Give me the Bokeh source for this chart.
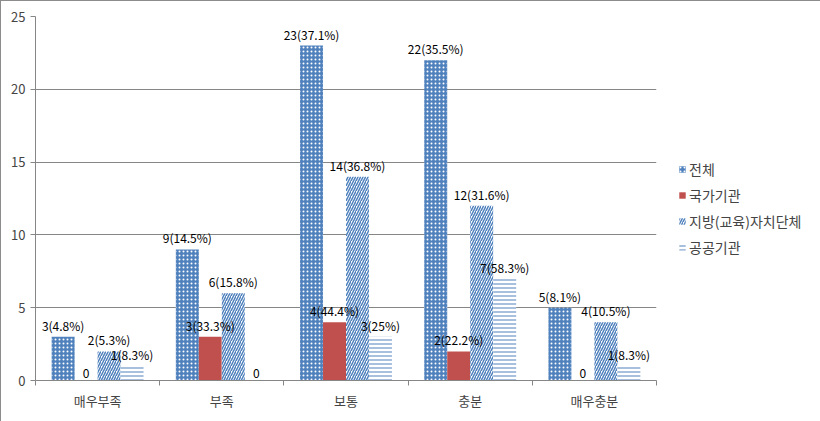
from bokeh.plotting import figure
from bokeh.models import ColumnDataSource, FixedTicker, Legend, LegendItem, LabelSet
from bokeh.core.properties import value
from bokeh.embed import file_html
from bokeh.resources import INLINE

categories = ["매우부족", "부족", "보통", "충분", "매우충분"]
series = ["전체", "국가기관", "지방(교육)자치단체", "공공기관"]
v_total = [3, 9, 23, 22, 5]
v_nation = [0, 3, 4, 2, 0]
v_local = [2, 6, 14, 12, 4]
v_public = [1, 0, 3, 7, 1]
p_total = ["4.8", "14.5", "37.1", "35.5", "8.1"]
p_nation = ["", "33.3", "44.4", "22.2", ""]
p_local = ["5.3", "15.8", "36.8", "31.6", "10.5"]
p_public = ["8.3", "", "25", "58.3", "8.3"]
y_ticks = [0, 5, 10, 15, 20, 25]

values = [v_total, v_nation, v_local, v_public]
pcts = [p_total, p_nation, p_local, p_public]

BLUE = "#4F81BD"
RED = "#C0504D"
styles = [
    dict(fill_color=BLUE, hatch_pattern="dot", hatch_color="white", hatch_scale=4, hatch_weight=0.8),
    dict(fill_color=RED),
    dict(fill_color="white", hatch_pattern="right_diagonal_line", hatch_color=BLUE, hatch_scale=5, hatch_weight=1.5),
    dict(fill_color="white", hatch_pattern="horizontal_line", hatch_color=BLUE, hatch_scale=4, hatch_weight=1),
]

FONT = "Noto Sans CJK KR"
bw = 0.185

p = figure(width=820, height=421, output_backend="svg", toolbar_location=None,
           x_range=(0, 5), y_range=(0, 25),
           frame_width=621, frame_height=364,
           min_border_left=34, min_border_top=15, min_border_bottom=42, min_border_right=165)
p.outline_line_color = None
p.styles = {"border": "1px solid #8c8c8c", "box-sizing": "border-box"}

items = []
for j, (name, vals, pc) in enumerate(zip(series, values, pcts)):
    xs = [i + 0.5 + (j - 1.5) * bw for i in range(len(categories))]
    labels = [f"{v}({q}%)" if v != 0 else "0" for v, q in zip(vals, pc)]
    src = ColumnDataSource(dict(x=xs, top=vals, label=labels))
    r = p.vbar(x="x", top="top", width=bw, source=src, line_color=None, **styles[j])
    items.append(LegendItem(label=name, renderers=[r]))
    ls = LabelSet(x="x", y="top", text="label", source=src, text_align="center",
                  text_baseline="bottom", y_offset=3, text_font=value(FONT),
                  text_font_size=value("12px"), text_color="black")
    p.add_layout(ls)

# axes
p.xaxis.ticker = FixedTicker(ticks=[i + 0.5 for i in range(len(categories))],
                             minor_ticks=list(range(len(categories) + 1)))
p.xaxis.major_label_overrides = {i + 0.5: c for i, c in enumerate(categories)}
p.xaxis.major_tick_line_color = None
p.xaxis.major_tick_out = 0
p.xaxis.major_tick_in = 0
p.xaxis.minor_tick_out = 5
p.xaxis.minor_tick_in = 0
p.xaxis.minor_tick_line_color = "#868686"
p.xaxis.axis_line_color = "#868686"
p.xaxis.major_label_text_font = FONT
p.xaxis.major_label_text_font_size = "13px"
p.xaxis.major_label_standoff = 5

p.yaxis.ticker = FixedTicker(ticks=y_ticks)
p.yaxis.major_tick_out = 5
p.yaxis.major_tick_in = 0
p.yaxis.minor_tick_line_color = None
p.yaxis.major_tick_line_color = "#868686"
p.yaxis.axis_line_color = "#868686"
p.yaxis.major_label_text_font = FONT
p.yaxis.major_label_text_font_size = "13px"
p.yaxis.major_label_standoff = 5

p.xgrid.grid_line_color = None
p.ygrid.grid_line_color = "#868686"
p.ygrid.ticker = FixedTicker(ticks=y_ticks)

legend = Legend(items=items, location=(22, 123), padding=0, margin=0, spacing=6,
                glyph_width=8, glyph_height=8, label_height=15, label_standoff=3,
                label_text_font=FONT, label_text_font_size="14px",
                border_line_color=None, background_fill_alpha=0)
p.add_layout(legend, "right")

open("out.html", "w").write(file_html(p, INLINE))
